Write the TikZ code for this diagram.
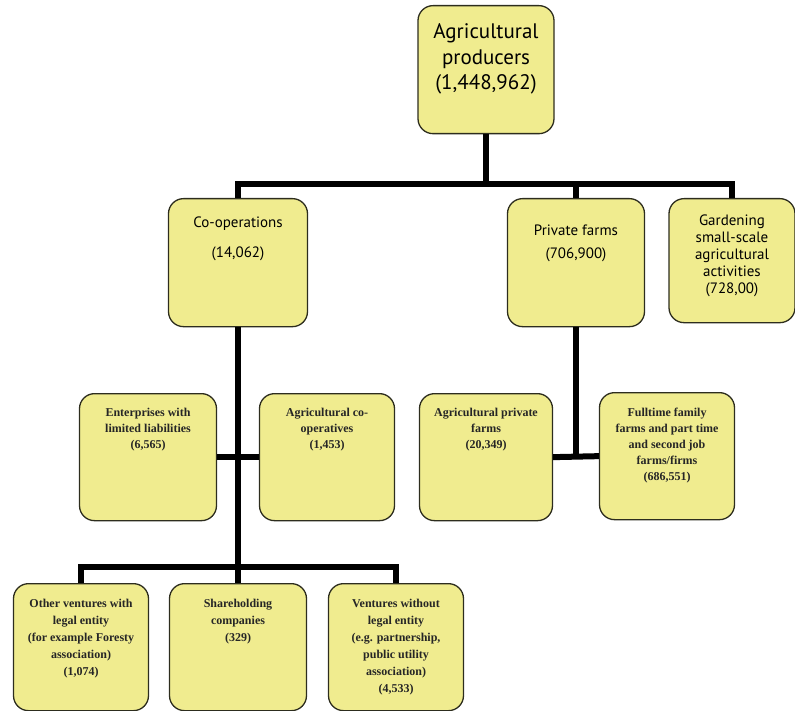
\documentclass[tikz,border=0pt]{standalone}
\usepackage{fontspec}
\setmainfont{Liberation Serif}
\newfontfamily\boxsans{PT Sans}
\usepackage{xcolor}
\definecolor{boxfill}{RGB}{240,236,143}
\definecolor{boxline}{RGB}{45,45,30}
\newcommand{\inbox}[4]{\parbox[t][#1][t]{#2}{\centering\vspace*{#3}#4\par}}

\tikzset{
  box/.style={draw=boxline, fill=boxfill, line width=1.3pt, rounded corners=15pt, inner sep=0pt, anchor=north},
  upper/.style={box, font=\boxsans},
  lower/.style={box, font=\bfseries, text=black!85},
  link/.style={line width=6pt, line join=miter}
}

\begin{document}
\begin{tikzpicture}[x=1pt, y=-1pt]
  \useasboundingbox (0,0) rectangle (795,711);

  \node[upper] (prod) at (486,5) {\inbox{128pt}{136pt}{18pt}{\fontsize{21}{25.5}\selectfont Agricultural\\ producers\\ (1,448,962)}};

  \node[upper] (coop) at (238,198) {\inbox{128pt}{139pt}{18pt}{\fontsize{15}{30}\selectfont Co-operations\\ (14,062)}};
  \node[upper] (priv) at (576,198) {\inbox{128pt}{137pt}{26pt}{\fontsize{15}{23}\selectfont Private farms\\ (706,900)}};
  \node[upper] (gard) at (732,198) {\inbox{124pt}{126pt}{16pt}{\fontsize{15}{17}\selectfont Gardening\\ small-scale\\ agricultural\\ activities\\ (728,00)}};

  \node[lower] (ent) at (148,393) {\inbox{127pt}{137pt}{15pt}{\fontsize{12}{16}\selectfont Enterprises with\\ limited liabilities\\ (6,565)}};
  \node[lower] (acoop) at (327,393) {\inbox{127pt}{135pt}{15pt}{\fontsize{12}{16}\selectfont Agricultural co-\\ operatives\\ (1,453)}};
  \node[lower] (apriv) at (486,393) {\inbox{127pt}{133pt}{15pt}{\fontsize{12}{16}\selectfont Agricultural private\\ farms\\ (20,349)}};
  \node[lower] (full) at (667,392) {\inbox{127pt}{135pt}{15pt}{\fontsize{12}{16}\selectfont Fulltime family\\ farms and part time\\ and second job\\ farms/firms\\ (686,551)}};

  \node[lower] (other) at (81,583) {\inbox{127pt}{135pt}{16pt}{\fontsize{12}{17}\selectfont Other ventures with\\ legal entity\\ (for example Foresty\\ association)\\ (1,074)}};
  \node[lower] (share) at (238,583) {\inbox{127pt}{137pt}{16pt}{\fontsize{12}{17}\selectfont Shareholding\\ companies\\ (329)}};
  \node[lower] (vent) at (396,583) {\inbox{127pt}{135pt}{16pt}{\fontsize{12}{17}\selectfont Ventures without\\ legal entity\\ (e.g. partnership,\\ public utility\\ association)\\ (4,533)}};

  \coordinate (bar) at (486,184);
  \coordinate (lowbar) at (238,567);

  \draw[link] (prod.south) -- (bar);
  \draw[link] (coop.north) -- (coop.north |- bar) -- (gard.north |- bar) -- (gard.north);
  \draw[link] (priv.north) -- (priv.north |- bar);
  \draw[link] (coop.south) -- (share.north);
  \draw[link] (other.north) -- (other.north |- lowbar) -- (vent.north |- lowbar) -- (vent.north);
  \draw[link] (ent.east) -- (acoop.west);
  \draw[link] (priv.south) -- (priv.south |- full.west);
  \draw[link] (apriv.east) -- (full.west);
\end{tikzpicture}
\end{document}
